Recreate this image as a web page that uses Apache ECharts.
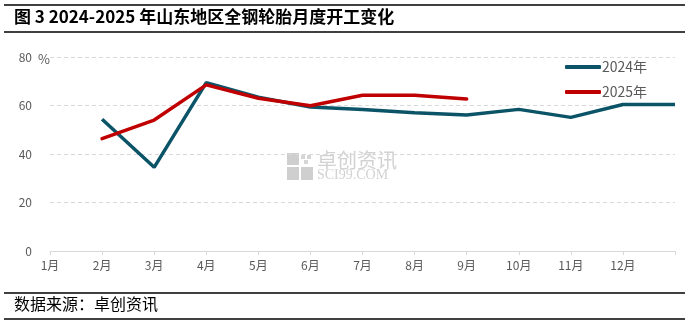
<!DOCTYPE html>
<html><head><meta charset="utf-8">
<script src="https://cdn.jsdelivr.net/npm/echarts@6/dist/echarts.min.js"></script>
<style>html,body{margin:0;padding:0;background:#fff}#c{width:687px;height:326px}</style>
</head><body><div id="c"></div>
<script>
const categories = ['1月','2月','3月','4月','5月','6月','7月','8月','9月','10月','11月','12月',''];
const series2024 = [null, 54.3, 34.5, 69.4, 63.4, 59.4, 58.4, 57.0, 56.1, 58.4, 55.1, 60.4, 60.4];
const series2025 = [null, 46.3, 54.0, 68.5, 63.0, 59.9, 64.2, 64.2, 62.7, null, null, null, null];
const yTicks = [0, 20, 40, 60, 80];
const titleText = '图 3 2024-2025 年山东地区全钢轮胎月度开工变化';
const sourceText = '数据来源：卓创资讯';
const FONT = '"Noto Sans CJK SC", sans-serif';

const chart = echarts.init(document.getElementById('c'), null, {renderer: 'canvas'});
chart.setOption({
  animation: false,
  backgroundColor: '#fff',
  grid: {left: 50, right: 12, top: 57, bottom: 75, containLabel: false},
  legend: {
    left: 560, top: 55, orient: 'vertical', itemGap: 11,
    itemWidth: 36, itemHeight: 4, icon: 'roundRect',
    textStyle: {fontFamily: FONT, fontSize: 14, color: '#595959', padding: [0,0,0,-4]},
    data: ['2024年', '2025年']
  },
  xAxis: {
    type: 'category', data: categories, boundaryGap: false,
    axisLine: {lineStyle: {color: '#d9d9d9'}},
    axisTick: {show: true, length: 4, lineStyle: {color: '#d9d9d9'}},
    axisLabel: {fontFamily: FONT, fontSize: 12, color: '#595959', margin: 8}
  },
  yAxis: {
    type: 'value', min: yTicks[0], max: yTicks[yTicks.length-1], interval: 20,
    name: '%', nameLocation: 'end', nameGap: -9,
    nameTextStyle: {fontFamily: FONT, fontSize: 13, color: '#595959', align: 'left', padding: [0,0,0,-12]},
    axisLine: {show: false}, axisTick: {show: false},
    splitLine: {lineStyle: {color: '#d9d9d9', type: [4, 3]}},
    axisLabel: {fontFamily: FONT, fontSize: 12, color: '#595959', margin: 18}
  },
  series: [
    {name: '2024年', type: 'line', data: series2024, symbol: 'none', connectNulls: false,
     lineStyle: {width: 3.5, color: '#0B5468'}, itemStyle: {color: '#0B5468'}},
    {name: '2025年', type: 'line', data: series2025, symbol: 'none',
     lineStyle: {width: 3.5, color: '#C00000', cap: 'round'}, itemStyle: {color: '#C00000'}}
  ],
  graphic: [
    {type: 'line', shape: {x1: 4, y1: 5, x2: 685, y2: 5}, style: {stroke: '#000', lineWidth: 1.5}},
    {type: 'line', shape: {x1: 4, y1: 32, x2: 685, y2: 32}, style: {stroke: '#000', lineWidth: 1.5}},
    {type: 'text', left: 14, top: 8, style: {text: titleText, font: 'bold 17px ' + FONT, fill: '#000'}},
    {type: 'line', shape: {x1: 4, y1: 293, x2: 685, y2: 293}, style: {stroke: '#000', lineWidth: 1.5}},
    {type: 'line', shape: {x1: 4, y1: 319, x2: 685, y2: 319}, style: {stroke: '#000', lineWidth: 1.5}},
    {type: 'text', left: 14, top: 296, style: {text: sourceText, font: '16px ' + FONT, fill: '#000'}},
    {type: 'group', left: 287, top: 150, silent: true, z: 0, children: [
      {type: 'rect', shape: {x: 0, y: 0, width: 12, height: 12}, style: {fill: '#cfcfcf'}},
      {type: 'rect', shape: {x: 0, y: 14, width: 12, height: 13}, style: {fill: '#cfcfcf'}},
      {type: 'rect', shape: {x: 14, y: 14, width: 12, height: 13}, style: {fill: '#cfcfcf'}},
      {type: 'rect', shape: {x: 14, y: 2, width: 4, height: 4}, style: {fill: '#d6d6d6'}},
      {type: 'rect', shape: {x: 20, y: 2, width: 4, height: 4}, style: {fill: '#d6d6d6'}},
      {type: 'rect', shape: {x: 17, y: 7, width: 4, height: 4}, style: {fill: '#d6d6d6'}},
      {type: 'text', x: 30, y: -3, style: {text: '卓创资讯', font: '20px ' + FONT, fill: '#d2d2d2'}},
      {type: 'text', x: 30, y: 15, style: {text: 'SCI99.COM', font: '14px "Liberation Serif", serif', fill: '#d2d2d2'}}
    ]}
  ]
});
</script></body></html>
